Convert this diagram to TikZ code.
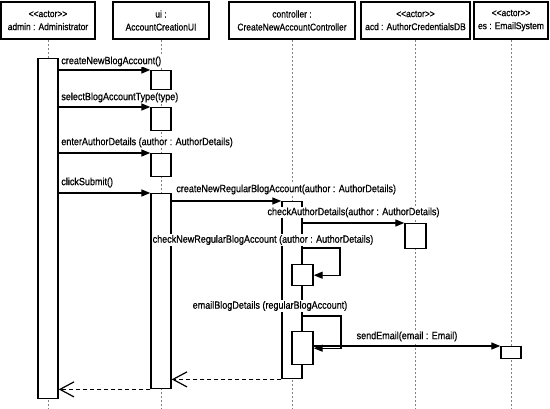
\documentclass[tikz,border=0pt]{standalone}
\usepackage{fontspec}
\setmainfont{Liberation Sans}[FakeStretch=0.86, FakeBold=0.6]
\usepackage{tikz}
\usetikzlibrary{arrows.meta, calc}
\definecolor{lifegray}{HTML}{808080}
\newcommand{\stereo}[1]{<\kern0pt<#1>\kern0pt>}

\tikzset{
  head/.style={draw, line width=1.6pt, minimum height=37pt, inner sep=0pt, align=center,
    font=\fontsize{9.8}{13}\selectfont},
  act/.style={draw, line width=1.4pt, fill=white, inner sep=0pt, minimum width=20pt, anchor=north},
  life/.style={lifegray, line width=1pt, dash pattern=on 2pt off 2pt},
  msg/.style={line width=1.3pt, -{Triangle[length=9pt,width=7pt]}},
  ret/.style={line width=1.2pt, dash pattern=on 4pt off 3pt, -{Straight Barb[length=14pt,width=15pt]}},
  lbl/.style={fill=white, inner sep=1pt, font=\fontsize{10.5}{12}\selectfont}
}

\begin{document}
\begin{tikzpicture}[x=1pt, y=-1pt]
    \useasboundingbox (0,0) rectangle (550,409);
    \coordinate (bot) at (0,409);

    % lifeline heads
    \node[head, minimum width=94pt] (admin) at (48,20.5) {\stereo{actor}\\admin : Administrator};
    \node[head, minimum width=96pt] (ui) at (161,20.5) {ui :\\AccountCreationUI};
    \node[head, minimum width=126pt] (ctrl) at (292,20.5) {controller :\\CreateNewAccountController};
    \node[head, minimum width=109pt] (acd) at (415.5,20.5) {\stereo{actor}\\acd : AuthorCredentialsDB};
    \node[head, minimum width=74pt] (es) at (511,20.5) {\stereo{actor}\\es : EmailSystem};

    \foreach \n in {admin, ui, ctrl, acd, es}
        \draw[life] (\n.south) -- (\n.south |- bot);

    % activations
    \node[act, minimum height=340pt] (admA) at (48,58) {};
    \node[act, minimum height=19pt] (uiA) at (161,70) {};
    \node[act, minimum height=23pt] (uiB) at (161,107) {};
    \node[act, minimum height=23pt] (uiC) at (161,153) {};
    \node[act, minimum height=195pt] (uiD) at (161,193) {};
    \node[act, minimum height=177pt] (ctlA) at (292,201) {};
    \node[act, minimum width=21pt, minimum height=21pt] (ctlB) at (302.5,264) {};
    \node[act, minimum width=21pt, minimum height=33pt] (ctlC) at (302.5,331) {};
    \node[act, minimum width=21pt, minimum height=25pt] (acdA) at (415.5,223) {};
    \node[act, minimum height=12pt] (esA) at (511,346) {};

    % messages
    \draw[msg] (admA.east |- uiA.north) -- (uiA.north west)
        node[lbl, pos=0, anchor=south west, xshift=1pt, yshift=2pt] {createNewBlogAccount()};
    \draw[msg] (admA.east |- uiB.north) -- (uiB.north west)
        node[lbl, pos=0, anchor=south west, xshift=1pt, yshift=3pt] {selectBlogAccountType(type)};
    \draw[msg] (admA.east |- uiC.north) -- (uiC.north west)
        node[lbl, pos=0, anchor=south west, xshift=1pt, yshift=4pt] {enterAuthorDetails (author : AuthorDetails)};
    \draw[msg] (admA.east |- uiD.north) -- (uiD.north west)
        node[lbl, pos=0, anchor=south west, xshift=1pt, yshift=4pt] {clickSubmit()};
    \draw[msg] (uiD.east |- ctlA.north) -- (ctlA.north west)
        node[lbl, pos=0, anchor=south west, xshift=3pt, yshift=5pt] {createNewRegularBlogAccount(author : AuthorDetails)};
    \draw[msg] (ctlA.east |- acdA.north) -- (acdA.north west)
        node[lbl, midway, above, yshift=4pt] {checkAuthorDetails(author : AuthorDetails)};

    \coordinate (loopA) at (302,248);
    \coordinate (loopB) at (302,316);
    \draw[msg] (loopA) -- ++(38,0) |- (ctlB.east);
    \node[lbl] (lblA) at (263,240) {checkNewRegularBlogAccount (author : AuthorDetails)};
    \draw[msg] (loopB) -- ++(39,0) |- (ctlC.east);
    \node[lbl] (lblB) at (270,306) {emailBlogDetails (regularBlogAccount)};

    \draw[msg] (ctlC.east |- esA.north) -- (esA.north west)
        node[lbl, midway, above, yshift=3pt] {sendEmail(email : Email)};

    % returns
    \draw[ret] (ctlA.south west) -- (ctlA.south west -| uiD.east);
    \draw[ret] (uiD.south west) -- (uiD.south west -| admA.east);
\end{tikzpicture}
\end{document}
